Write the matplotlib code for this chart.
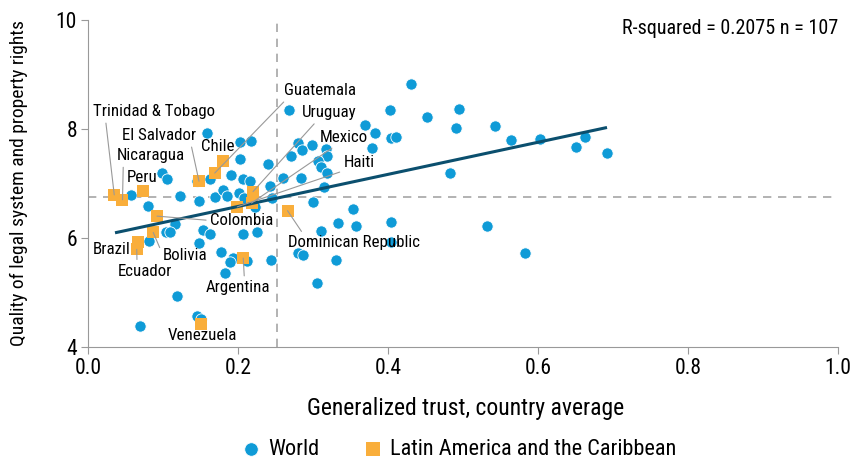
import matplotlib
matplotlib.use("Agg")
import matplotlib.pyplot as plt
from matplotlib import font_manager

# the original uses a narrow sans (Arial Narrow look)
names = {f.name for f in font_manager.fontManager.ttflist}
FONT = "DejaVu Sans"
for cand in ["Liberation Sans Narrow", "Arial Narrow", "Roboto Condensed",
             "PT Sans Narrow", "Archivo Narrow"]:
    if cand in names:
        FONT = cand
        break
plt.rcParams["font.family"] = [FONT, "DejaVu Sans"]

# World: generalized trust vs quality of legal system
world_trust = [
    0.158, 0.203, 0.217, 0.203, 0.240, 0.099, 0.106, 0.057, 0.080, 0.123,
    0.148, 0.169, 0.180, 0.185, 0.191, 0.207, 0.216, 0.242, 0.201, 0.208,
    0.223, 0.245, 0.145, 0.162, 0.268, 0.431, 0.402, 0.452, 0.495, 0.491,
    0.542, 0.564, 0.603, 0.650, 0.662, 0.692, 0.369, 0.382, 0.404, 0.410,
    0.280, 0.299, 0.285, 0.317, 0.378, 0.270, 0.319, 0.307, 0.311, 0.319,
    0.260, 0.284, 0.314, 0.300, 0.353, 0.483, 0.404, 0.532, 0.583, 0.404,
    0.333, 0.357, 0.311, 0.280, 0.286, 0.331, 0.305, 0.244, 0.116, 0.104,
    0.110, 0.082, 0.153, 0.163, 0.207, 0.225, 0.148, 0.177, 0.193, 0.189,
    0.212, 0.183, 0.118, 0.069, 0.145, 0.151,
]
world_legal = [
    7.93, 7.76, 7.78, 7.45, 7.36, 7.20, 7.09, 6.78, 6.59, 6.77,
    6.68, 6.75, 6.88, 6.76, 7.15, 7.08, 7.05, 6.95, 6.83, 6.73,
    6.57, 6.73, 7.04, 7.09, 8.34, 8.83, 8.34, 8.21, 8.37, 8.02,
    8.06, 7.79, 7.82, 7.67, 7.86, 7.55, 8.07, 7.93, 7.84, 7.86,
    7.75, 7.71, 7.61, 7.64, 7.65, 7.50, 7.50, 7.42, 7.30, 7.20,
    7.10, 7.10, 6.93, 6.66, 6.53, 7.20, 6.29, 6.22, 5.72, 5.93,
    6.27, 6.21, 6.12, 5.72, 5.68, 5.59, 5.18, 5.59, 6.25, 6.11,
    6.10, 5.95, 6.15, 6.07, 6.08, 6.10, 5.90, 5.74, 5.64, 5.55,
    5.58, 5.35, 4.93, 4.39, 4.56, 4.51,
]

# Latin America and the Caribbean
lac_names = [
    "Trinidad & Tobago", "Nicaragua", "Peru", "El Salvador", "Chile",
    "Guatemala", "Uruguay", "Mexico", "Haiti", "Colombia",
    "Dominican Republic", "Brazil", "Ecuador", "Bolivia", "Argentina",
    "Venezuela",
]
lac_trust = [0.035, 0.046, 0.074, 0.148, 0.180, 0.169, 0.220, 0.218, 0.199,
             0.092, 0.266, 0.067, 0.065, 0.087, 0.207, 0.151]
lac_legal = [6.79, 6.70, 6.87, 7.04, 7.42, 7.19, 6.85, 6.64, 6.57,
             6.40, 6.50, 5.93, 5.79, 6.10, 5.63, 4.43]

# label text position (left edge, vertical centre) in data coords
label_x = [0.007, 0.038, 0.052, 0.045, 0.150, 0.261, 0.285, 0.309, 0.341,
           0.163, 0.267, 0.007, 0.040, 0.100, 0.157, 0.106]
label_y = [8.32, 7.51, 7.11, 7.88, 7.68, 8.70, 8.30, 7.85, 7.39,
           6.32, 5.91, 5.79, 5.39, 5.68, 5.09, 4.21]
# where on the label the leader line starts (None = no line)
label_rel = [(0.1, 0), (0.1, 0), None, (0.93, 0), None, (0.05, 0),
             (0.29, 0), (0.36, 0), (0.1, 0), (0, 0.5), (0.12, 1), None,
             (0.35, 1), (0, 0.5), (0.6, 1), None]

# fitted line and reference lines
fit_x = [0.038, 0.69]
fit_y = [6.10, 8.02]
trust_mean = 0.252
legal_mean = 6.75
r_text = "R-squared = 0.2075 n = 107"

BLUE = "#0f9bd7"
ORANGE = "#f9ae3b"
TEAL = "#0b4f6e"
GREY = "#a6a6a6"
LABEL_SIZE = 12.2

fig = plt.figure(figsize=(8.56, 4.62), dpi=100)
ax = fig.add_axes([0.1028, 0.249, 0.8762, 0.708])

ax.axvline(trust_mean, color=GREY, lw=1.2, ls=(0, (5, 4)), zorder=1)
ax.axhline(legal_mean, color=GREY, lw=1.2, ls=(0, (5, 4)), zorder=1)

ax.scatter(world_trust, world_legal, s=66, color=BLUE, edgecolors="white",
           linewidths=0.6, zorder=3, label="World")
ax.scatter(lac_trust, lac_legal, s=72, marker="s", color=ORANGE,
           linewidths=0, zorder=4, label="Latin America and the Caribbean")
ax.plot(fit_x, fit_y, color=TEAL, lw=2.2, zorder=5)

for name, px, py, lx, ly, rel in zip(lac_names, lac_trust, lac_legal,
                                     label_x, label_y, label_rel):
    if rel is None:
        ax.text(lx, ly, name, fontsize=LABEL_SIZE, ha="left", va="center",
                zorder=6)
    else:
        ax.annotate(name, xy=(px, py), xytext=(lx, ly), fontsize=LABEL_SIZE,
                    ha="left", va="center", zorder=6,
                    arrowprops=dict(arrowstyle="-", color="#999999", lw=0.8,
                                    shrinkA=1, shrinkB=0, relpos=rel))

ax.text(1.0, 9.84, r_text, ha="right", va="center", fontsize=14.5)

ax.set_xlim(0, 1.0)
ax.set_ylim(4, 10)
ax.set_xticks([0.0, 0.2, 0.4, 0.6, 0.8, 1.0])
ax.set_xticklabels(["0.0", "0.2", "0.4", "0.6", "0.8", "1.0"])
ax.set_yticks([4, 6, 8, 10])
ax.tick_params(labelsize=15.5, length=5, color="#999999", pad=3)
for side in ["top", "right"]:
    ax.spines[side].set_visible(False)
for side in ["left", "bottom"]:
    ax.spines[side].set_color("#999999")

ax.set_xlabel("Generalized trust, country average", fontsize=17)
ax.xaxis.set_label_coords(0.503, -0.152)
ax.set_ylabel("Quality of legal system and property rights", fontsize=14)
ax.yaxis.set_label_coords(-0.08, 0.5)

fig.legend(loc="center", bbox_to_anchor=(0.536, 0.028), ncol=2,
           frameon=False, fontsize=16, handletextpad=0.3,
           handlelength=0.9, columnspacing=2.0, markerscale=1.2)

fig.savefig("out.png", dpi=100)
